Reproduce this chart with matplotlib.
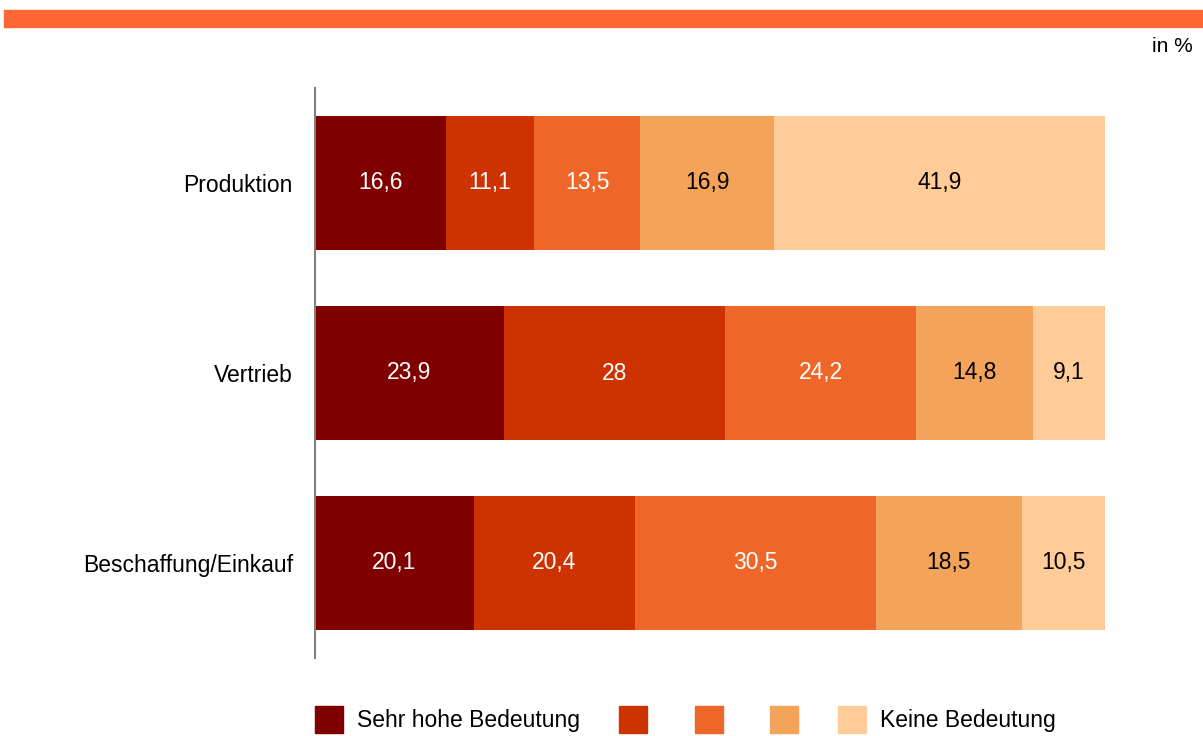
import matplotlib
matplotlib.use("Agg")
import matplotlib.pyplot as plt
from matplotlib.patches import Rectangle
import numpy as np

plt.rcParams['font.family'] = ['Liberation Sans', 'DejaVu Sans']

categories = ['Produktion', 'Vertrieb', 'Beschaffung/Einkauf']
sehr_hoch = [16.6, 23.9, 20.1]
stufe2 = [11.1, 28.0, 20.4]
stufe3 = [13.5, 24.2, 30.5]
stufe4 = [16.9, 14.8, 18.5]
keine = [41.9, 9.1, 10.5]
labels = [['16,6', '23,9', '20,1'],
          ['11,1', '28', '20,4'],
          ['13,5', '24,2', '30,5'],
          ['16,9', '14,8', '18,5'],
          ['41,9', '9,1', '10,5']]
legend_labels = ['Sehr hohe Bedeutung', '', '', '', 'Keine Bedeutung']

colors = ['#800000', '#CC3300', '#EE6628', '#F4A35A', '#FFCC99']
text_colors = ['white', 'white', 'white', 'black', 'black']
fs = 16.5

W, H = 1203, 736
fig = plt.figure(figsize=(W / 100, H / 100), dpi=100)
ax = fig.add_axes([315 / W, (H - 658) / H, 790 / W, 570 / H])

series = [sehr_hoch, stufe2, stufe3, stufe4, keine]
y = np.arange(len(categories))
left = np.zeros(len(categories))
for i, vals in enumerate(series):
    vals = np.array(vals)
    ax.barh(y, vals, left=left, height=0.71, color=colors[i], linewidth=0)
    for j in range(len(categories)):
        ax.text(left[j] + vals[j] / 2, y[j], labels[i][j], ha='center', va='center',
                color=text_colors[i], fontsize=fs)
    left += vals

ax.set_xlim(0, 100)
ax.set_ylim(2.5, -0.5)
ax.set_yticks(y)
ax.set_yticklabels(categories, fontsize=fs)
ax.tick_params(axis='y', length=0, pad=16)
ax.set_xticks([])
for s in ['top', 'right', 'bottom']:
    ax.spines[s].set_visible(False)
ax.spines['left'].set_color('#808080')
ax.spines['left'].set_linewidth(1.5)

# orange band on top
fig.patches.append(Rectangle((4 / W, 1 - 27 / H), 1 - 4 / W, 17 / H,
                             transform=fig.transFigure, color='#FF6633', zorder=0))
fig.text(1193 / W, 1 - 47 / H, 'in %', ha='right', va='center', fontsize=15)

# legend
sq_x = [315, 619, 695, 770, 838]
for i in range(5):
    fig.patches.append(Rectangle((sq_x[i] / W, 1 - 733 / H), 28 / W, 27 / H,
                                 transform=fig.transFigure, color=colors[i]))
    if legend_labels[i]:
        fig.text((sq_x[i] + 42) / W, 1 - 720 / H, legend_labels[i],
                 ha='left', va='center', fontsize=fs)

fig.savefig('out.png', dpi=100)
